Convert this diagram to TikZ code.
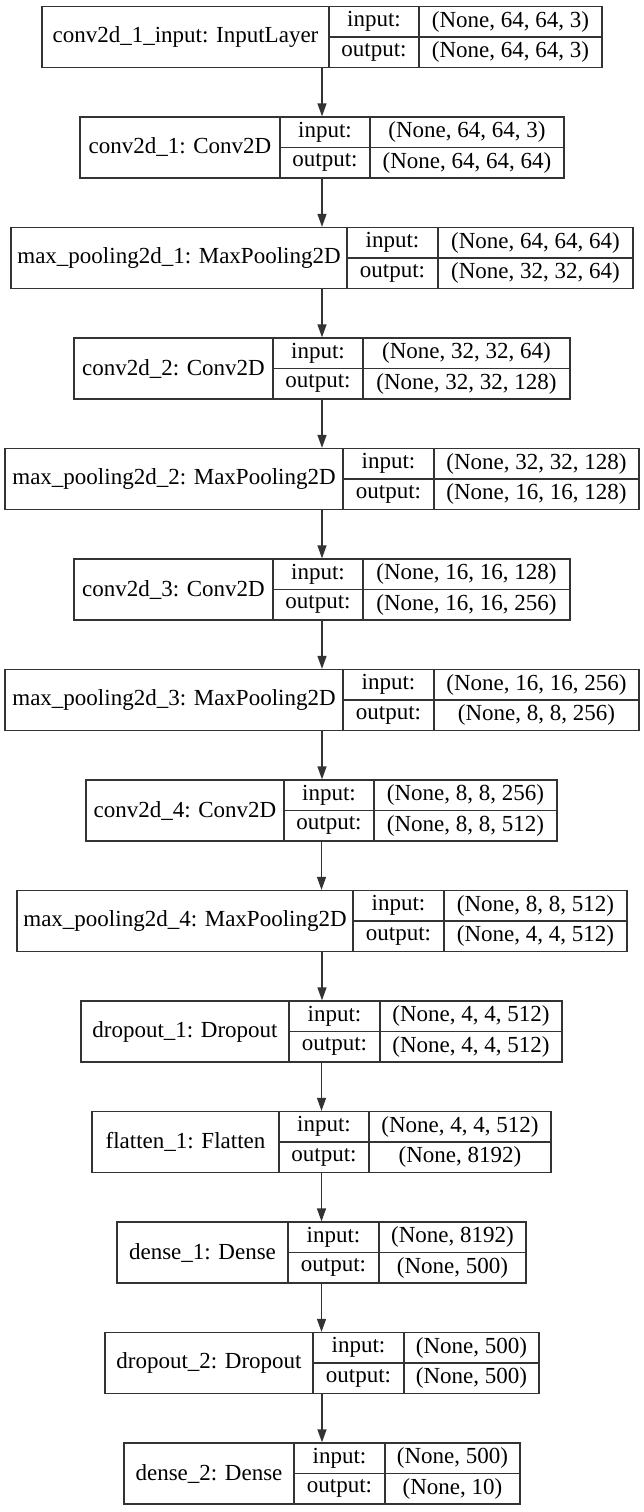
\documentclass[tikz,border=0pt]{standalone}
\usepackage{fontspec}
\setmainfont{Liberation Serif}
\usetikzlibrary{arrows.meta}
\definecolor{bordercol}{HTML}{333333}
\tikzset{
  box/.style={draw=bordercol, line width=1.3pt, inner sep=0pt, minimum height=61pt},
  cell/.style={draw=bordercol, line width=1.3pt, inner sep=0pt, minimum height=30.5pt, font=\fontsize{23}{26}\selectfont},
  lbl/.style={inner sep=0pt, font=\fontsize{23}{26}\selectfont},
  arr/.style={-{Triangle[length=13pt,width=9pt]}, line width=1.3pt, draw=bordercol, fill=bordercol}
}
\newcommand{\klayer}[8]{%
  \pgfmathsetmacro\yc{37+110.5*(#1-1)}%
  \pgfmathsetmacro\xc{(#2+#5)/2}%
  \pgfmathsetmacro\wa{#5-#2}%
  \pgfmathsetmacro\wb{#4-#3}%
  \pgfmathsetmacro\wc{#5-#4}%
  \pgfmathsetmacro\xl{(#2+#3)/2}%
  \pgfmathsetmacro\xm{(#3+#4)/2}%
  \pgfmathsetmacro\xr{(#4+#5)/2}%
  \pgfmathsetmacro\yt{\yc-15.25}%
  \pgfmathsetmacro\yb{\yc+15.25}%
  \node[box, minimum width=\wa pt] (r#1) at (\xc,\yc) {};
  \node[lbl] (n#1) at (\xl,\yc) {#6};
  \node[cell, minimum width=\wb pt] (ki#1) at (\xm,\yt) {input:};
  \node[cell, minimum width=\wb pt] (ko#1) at (\xm,\yb) {output:};
  \node[cell, minimum width=\wc pt] (vi#1) at (\xr,\yt) {#7};
  \node[cell, minimum width=\wc pt] (vo#1) at (\xr,\yb) {#8};
}
\begin{document}
\begin{tikzpicture}[x=1pt,y=-1pt]
\useasboundingbox (0,0) rectangle (644,1512);
\klayer{1}{42}{329}{419}{602}{conv2d\_1\_input: InputLayer}{(None, 64, 64, 3)}{(None, 64, 64, 3)}
\klayer{2}{80}{280}{370}{564}{conv2d\_1: Conv2D}{(None, 64, 64, 3)}{(None, 64, 64, 64)}
\klayer{3}{11}{347}{438}{633}{max\_pooling2d\_1: MaxPooling2D}{(None, 64, 64, 64)}{(None, 32, 32, 64)}
\klayer{4}{74}{273}{363}{570}{conv2d\_2: Conv2D}{(None, 32, 32, 64)}{(None, 32, 32, 128)}
\klayer{5}{5}{343}{434}{639}{max\_pooling2d\_2: MaxPooling2D}{(None, 32, 32, 128)}{(None, 16, 16, 128)}
\klayer{6}{74}{273}{363}{570}{conv2d\_3: Conv2D}{(None, 16, 16, 128)}{(None, 16, 16, 256)}
\klayer{7}{5}{343}{434}{639}{max\_pooling2d\_3: MaxPooling2D}{(None, 16, 16, 256)}{(None, 8, 8, 256)}
\klayer{8}{86}{284}{374}{557}{conv2d\_4: Conv2D}{(None, 8, 8, 256)}{(None, 8, 8, 512)}
\klayer{9}{17}{353}{444}{627}{max\_pooling2d\_4: MaxPooling2D}{(None, 8, 8, 512)}{(None, 4, 4, 512)}
\klayer{10}{81}{289}{380}{562}{dropout\_1: Dropout}{(None, 4, 4, 512)}{(None, 4, 4, 512)}
\klayer{11}{92}{279}{369}{551}{flatten\_1: Flatten}{(None, 4, 4, 512)}{(None, 8192)}
\klayer{12}{117}{288}{379}{526}{dense\_1: Dense}{(None, 8192)}{(None, 500)}
\klayer{13}{105}{313}{404}{539}{dropout\_2: Dropout}{(None, 500)}{(None, 500)}
\klayer{14}{124}{294}{385}{520}{dense\_2: Dense}{(None, 500)}{(None, 10)}
\foreach \a/\b in {1/2,2/3,3/4,4/5,5/6,6/7,7/8,8/9,9/10,10/11,11/12,12/13,13/14}
  \draw[arr] (r\a.south) -- (r\a.south |- r\b.north);
\end{tikzpicture}
\end{document}
